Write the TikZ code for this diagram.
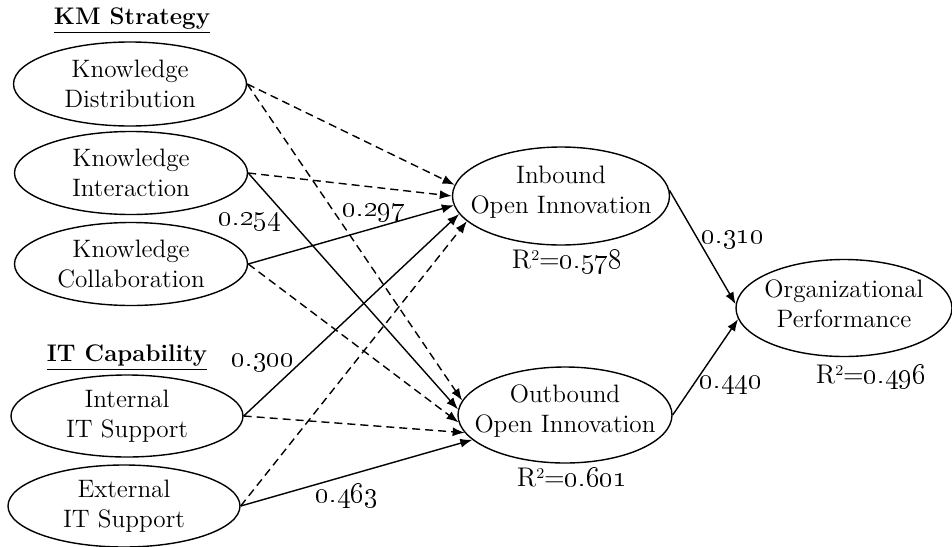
\documentclass[tikz,border=0pt]{standalone}
\usetikzlibrary{arrows.meta, shapes.geometric, positioning}

\begin{document}
\begin{tikzpicture}[x=0.5pt, y=-0.5pt, >={Latex[length=6pt,width=4.5pt]},
    font=\fontsize{12.6}{15}\selectfont,
    construct/.style={draw, ellipse, line width=0.7pt, inner sep=0pt},
    cname/.style={align=center},
    coef/.style={font=\fontsize{13.5}{15}\selectfont},
    heading/.style={font=\fontsize{12}{15}\selectfont},
    sigpath/.style={->, line width=0.7pt},
    nspath/.style={->, line width=0.7pt, dash pattern=on 4pt off 2.5pt}]
      \useasboundingbox (0,0) rectangle (952,546);

      % --- Group headings ---
      \node[heading] (kmhead) at (132,21) {\underline{\textbf{KM Strategy}}};
      \node[heading] (ithead) at (127,358) {\underline{\textbf{IT Capability}}};

      % --- Constructs ---
      \node[construct, minimum width=116.5pt, minimum height=42pt] (kd) at (130,84) {};
      \node[construct, minimum width=116.5pt, minimum height=41.5pt] (ki) at (131,173) {};
      \node[construct, minimum width=116.5pt, minimum height=41.5pt] (kc) at (131,264) {};
      \node[construct, minimum width=116pt, minimum height=41pt] (its) at (127,416) {};
      \node[construct, minimum width=116pt, minimum height=41pt] (ets) at (124,506) {};
      \node[construct, minimum width=108.5pt, minimum height=49pt] (ib) at (561,196) {};
      \node[construct, minimum width=107pt, minimum height=48pt] (ob) at (565,415) {};
      \node[construct, minimum width=108pt, minimum height=48.5pt] (op) at (844,308) {};

      % --- Construct names ---
      \node[cname] (kdtext) at (kd) {Knowledge\\Distribution};
      \node[cname] (kitext) at (ki) {Knowledge\\Interaction};
      \node[cname] (kctext) at (kc) {Knowledge\\Collaboration};
      \node[cname] (itstext) at (its) {Internal\\IT Support};
      \node[cname] (etstext) at (ets) {External\\IT Support};
      \node[cname, yshift=2pt] (ibtext) at (ib) {Inbound\\Open Innovation};
      \node[cname, yshift=2pt] (obtext) at (ob) {Outbound\\Open Innovation};
      \node[cname, yshift=2pt] (optext) at (op) {Organizational\\Performance};

      % --- Paths to inbound / outbound ---
      \draw[nspath] (kd.east) -- (ib.174);
      \draw[nspath] (kd.east) -- (ob.172);
      \draw[nspath] (ki.east) -- (ib.180);
      \draw[sigpath] (ki.east) -- (ob.177);
      \draw[sigpath] (kc.east) -- (ib.185);
      \draw[nspath] (kc.east) -- (ob.184);
      \draw[sigpath] (its.east) -- (ib.190);
      \draw[nspath] (its.east) -- (ob.190);
      \draw[nspath] (ets.east) -- (ib.195);
      \draw[sigpath] (ets.east) -- (ob.195);

      % --- Paths to performance ---
      \draw[sigpath] (ib.3) -- (op.178);
      \draw[sigpath] (ob.east) -- (op.186);

      % --- Coefficients ---
      \node[coef] (c254) at (250,222) {\oldstylenums{0.254}};
      \node[coef] (c297) at (374,213) {\oldstylenums{0.297}};
      \node[coef] (c300) at (263,363) {\oldstylenums{0.300}};
      \node[coef] (c463) at (347,496) {\oldstylenums{0.463}};
      \node[coef] (c310) at (733,240) {\oldstylenums{0.310}};
      \node[coef] (c440) at (731,385) {\oldstylenums{0.440}};

      % --- Explained variance ---
      \node[coef] (r2ib) at (567,262) {R{\fontsize{7.5}{8}\selectfont\raisebox{1.3ex}{2}}=\oldstylenums{0.578}};
      \node[coef] (r2ob) at (572,478) {R{\fontsize{7.5}{8}\selectfont\raisebox{1.3ex}{2}}=\oldstylenums{0.601}};
      \node[coef] (r2op) at (871,377) {R{\fontsize{7.5}{8}\selectfont\raisebox{1.3ex}{2}}=\oldstylenums{0.496}};
\end{tikzpicture}
\end{document}
